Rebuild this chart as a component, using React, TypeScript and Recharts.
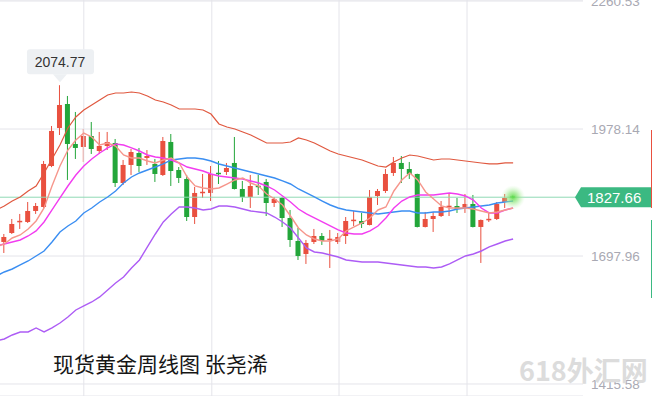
// Weekly gold candlestick chart with Bollinger bands + MA5 / MA10
import {
  ComposedChart,
  Bar,
  Line,
  XAxis,
  YAxis,
  CartesianGrid,
  ReferenceLine,
  ReferenceDot,
} from 'recharts';

// candle OHLC, index 1..65 (weekly bars)
const opens = [
  1728.9, 1748.7, 1774.1, 1773.0, 1797.3, 1806.1, 1896.5, 1980.4, 2033.3, 1945.1,
  1938.5, 1962.7, 1929.6, 1940.7, 1947.3, 1859.0, 1898.8, 1925.2, 1914.2, 1901.0,
  1876.7, 1949.5, 1887.7, 1867.9, 1784.0, 1838.2, 1837.0, 1881.6, 1883.3, 1903.2,
  1845.8, 1828.2, 1853.0, 1861.3, 1814.9, 1826.0, 1781.8, 1731.1, 1702.4, 1728.9,
  1742.1, 1734.8, 1728.9, 1742.1, 1776.6, 1775.2, 1766.4, 1830.4, 1841.4, 1881.1,
  1903.2, 1889.9, 1878.9, 1762.0, 1779.6, 1786.2, 1807.5, 1808.3, 1803.9, 1812.7,
  1762.0, 1778.5, 1779.6, 1817.1, 1829.4,
];
const highs = [
  1746.5, 1779.6, 1790.7, 1817.1, 1814.9, 1907.6, 1984.8, 2074.77, 2051.0, 2015.7,
  1978.2, 1993.6, 1971.6, 1971.6, 1956.1, 1909.8, 1934.0, 1936.3, 1931.8, 1912.0,
  1960.5, 1967.1, 1894.3, 1876.7, 1850.2, 1878.9, 1896.5, 1907.6, 1903.2, 1960.5,
  1863.5, 1876.7, 1876.7, 1867.9, 1828.2, 1828.2, 1799.5, 1759.8, 1733.3, 1757.6,
  1748.7, 1755.4, 1748.7, 1784.0, 1797.3, 1792.9, 1843.6, 1845.8, 1889.9, 1916.4,
  1918.6, 1905.4, 1879.5, 1795.1, 1795.1, 1819.3, 1834.8, 1826.0, 1834.8, 1832.6,
  1778.5, 1792.9, 1817.1, 1834.8, 1831.0,
];
const lows = [
  1704.6, 1746.5, 1757.6, 1770.8, 1790.7, 1804.0, 1894.0, 1964.9, 1865.7, 1912.0,
  1905.4, 1923.0, 1923.0, 1931.8, 1850.2, 1854.6, 1876.7, 1883.3, 1898.8, 1861.3,
  1874.5, 1852.4, 1859.0, 1775.2, 1768.6, 1826.0, 1819.3, 1856.8, 1876.7, 1844.8,
  1817.1, 1803.9, 1832.6, 1786.2, 1806.1, 1762.0, 1717.9, 1689.2, 1680.4, 1724.5,
  1722.3, 1671.5, 1724.5, 1724.5, 1764.2, 1759.8, 1765.5, 1810.5, 1837.0, 1874.5,
  1859.0, 1867.9, 1761.0, 1761.0, 1751.0, 1784.0, 1786.2, 1792.9, 1792.9, 1761.0,
  1682.6, 1773.0, 1777.4, 1803.9, 1825.5,
];
const closes = [
  1739.9, 1768.6, 1775.6, 1797.3, 1808.3, 1901.0, 1973.8, 2031.1, 1945.1, 1936.3,
  1962.7, 1934.0, 1940.7, 1949.5, 1859.0, 1898.8, 1927.4, 1896.5, 1918.6, 1878.9,
  1951.7, 1885.5, 1870.1, 1784.0, 1837.0, 1839.7, 1878.9, 1880.4, 1892.1, 1845.8,
  1828.2, 1852.4, 1851.4, 1814.9, 1823.8, 1781.8, 1733.3, 1698.0, 1726.7, 1742.1,
  1731.1, 1736.2, 1739.9, 1775.2, 1778.1, 1768.6, 1828.2, 1841.4, 1878.9, 1903.2,
  1889.9, 1878.9, 1762.0, 1779.6, 1786.2, 1806.1, 1808.9, 1801.7, 1812.7, 1762.0,
  1777.4, 1780.0, 1812.7, 1826.0, 1827.66,
];

// indicator lines, index 0..65 (index 0 is the week before the first visible candle)
const ma5 = [
  1717.9, 1724.5, 1737.7, 1744.3, 1757.6, 1775.2, 1803.9, 1852.4, 1896.5, 1931.8,
  1953.9, 1969.3, 1960.5, 1942.9, 1947.3, 1940.7, 1920.8, 1914.2, 1914.2, 1907.6,
  1903.2, 1909.8, 1914.2, 1903.2, 1872.3, 1852.4, 1848.0, 1845.8, 1848.0, 1856.8,
  1865.7, 1870.1, 1859.0, 1852.4, 1834.8, 1823.8, 1810.5, 1786.2, 1759.8, 1744.3,
  1735.5, 1731.1, 1731.1, 1735.5, 1753.2, 1762.0, 1770.8, 1781.8, 1799.5, 1806.1,
  1841.4, 1865.7, 1881.1, 1865.7, 1839.2, 1823.8, 1808.3, 1803.9, 1803.9, 1803.9,
  1801.7, 1797.3, 1792.9, 1795.1, 1799.5, 1803.9,
];
const ma10 = [
  1720.1, 1724.5, 1728.9, 1733.3, 1742.1, 1753.2, 1773.0, 1799.5, 1826.0, 1852.4,
  1876.7, 1896.5, 1912.0, 1925.2, 1936.3, 1945.1, 1942.9, 1936.3, 1929.6, 1920.8,
  1916.4, 1914.2, 1909.8, 1903.2, 1894.3, 1889.9, 1885.5, 1878.9, 1874.5, 1872.3,
  1870.1, 1867.9, 1863.5, 1859.0, 1852.4, 1843.6, 1830.4, 1817.1, 1801.7, 1790.7,
  1781.8, 1773.0, 1764.2, 1755.4, 1748.7, 1746.5, 1746.5, 1753.2, 1764.2, 1781.8,
  1803.9, 1819.3, 1828.2, 1832.6, 1832.6, 1832.6, 1834.8, 1837.0, 1834.8, 1830.4,
  1821.5, 1803.9, 1792.9, 1792.9, 1799.5, 1803.9,
];
const bollMid = [
  1653.9, 1662.7, 1669.3, 1678.2, 1687.0, 1698.0, 1709.0, 1728.9, 1751.0, 1764.2,
  1775.2, 1792.9, 1803.9, 1817.1, 1828.2, 1841.4, 1859.0, 1872.3, 1881.1, 1887.7,
  1894.3, 1901.0, 1909.8, 1912.0, 1914.2, 1914.2, 1912.0, 1907.6, 1901.0, 1896.5,
  1892.1, 1887.7, 1883.3, 1878.9, 1874.5, 1870.1, 1863.5, 1856.8, 1845.8, 1837.0,
  1828.2, 1819.3, 1810.5, 1803.9, 1799.5, 1797.3, 1795.1, 1792.9, 1790.7, 1792.9,
  1795.1, 1797.3, 1797.3, 1792.9, 1792.9, 1795.1, 1795.1, 1797.3, 1801.7, 1803.9,
  1806.1, 1808.3, 1810.5, 1814.9, 1817.1, 1819.3,
];
const bollUpper = [
  1799.5, 1808.3, 1819.3, 1828.2, 1841.4, 1852.4, 1881.1, 1912.0, 1942.9, 1980.4,
  2004.6, 2020.1, 2031.1, 2042.1, 2053.2, 2057.6, 2057.6, 2059.8, 2057.6, 2051.0,
  2042.1, 2037.7, 2031.1, 2022.3, 2022.3, 2022.3, 2020.1, 2011.2, 1989.2, 1982.6,
  1978.2, 1971.6, 1964.9, 1956.1, 1947.3, 1947.3, 1947.3, 1949.5, 1958.3, 1953.9,
  1947.3, 1938.5, 1929.6, 1923.0, 1918.6, 1914.2, 1909.8, 1903.2, 1896.5, 1894.3,
  1905.4, 1914.2, 1920.8, 1918.6, 1914.2, 1909.8, 1912.0, 1912.0, 1909.8, 1907.6,
  1905.4, 1903.2, 1901.0, 1901.0, 1903.2, 1903.2,
];
const bollLower = [
  1510.5, 1514.9, 1523.7, 1530.3, 1530.3, 1539.2, 1530.3, 1539.2, 1550.2, 1563.4,
  1578.9, 1587.7, 1596.5, 1607.6, 1623.0, 1638.4, 1651.7, 1671.5, 1689.2, 1717.9,
  1746.5, 1773.0, 1790.7, 1806.1, 1806.1, 1803.9, 1799.5, 1801.7, 1808.3, 1808.3,
  1806.1, 1801.7, 1797.3, 1795.1, 1792.9, 1784.0, 1773.0, 1759.8, 1737.7, 1715.7,
  1706.8, 1704.6, 1700.2, 1695.8, 1689.2, 1687.0, 1684.8, 1684.8, 1684.8, 1682.6,
  1680.4, 1678.2, 1675.9, 1673.7, 1673.7, 1671.5, 1673.7, 1680.4, 1689.2, 1698.0,
  1702.4, 1709.0, 1717.9, 1724.5, 1731.1, 1735.5,
];

const priceTicks = [1415.58, 1697.96, 1978.14, 2260.53];
const dateGridX = [11, 27.1, 43.1, 59.2];
const lastPrice = 1827.66;
const peakIndex = 8;
const peakPrice = 2074.77;

const RED = '#e9503f';
const GREEN = '#23a63a';

const rows = bollMid.map((_, i) => ({
  i,
  o: i > 0 ? opens[i - 1] : null,
  h: i > 0 ? highs[i - 1] : null,
  l: i > 0 ? lows[i - 1] : null,
  c: i > 0 ? closes[i - 1] : null,
  ma5: ma5[i],
  ma10: ma10[i],
  mid: bollMid[i],
  up: bollUpper[i],
  dn: bollLower[i],
}));

function Candle(props: any) {
  const { x, y, width, height, payload } = props;
  if (!payload || payload.o == null) return null;
  const { o, h, l, c } = payload;
  const top = Math.min(y, y + height);
  const span = Math.abs(height);
  const ppu = h - l > 0 ? span / (h - l) : 0;
  const cx = x + width / 2;
  const bodyTop = top + (h - Math.max(o, c)) * ppu;
  const bodyH = Math.max(1.5, Math.abs(o - c) * ppu);
  const color = c >= o ? RED : GREEN;
  return (
    <g>
      <line x1={cx} x2={cx} y1={top} y2={top + span} stroke={color} strokeWidth={1} />
      <rect x={x} y={bodyTop} width={width} height={bodyH} fill={color} />
    </g>
  );
}

function PeakLabel(props: any) {
  const { cx, cy } = props;
  const bx = cx - 33;
  const by = cy - 36;
  return (
    <g>
      <rect x={bx} y={by} width={67} height={25} rx={3} fill="#edf0f3" />
      <path d={`M${cx - 7},${by + 25} L${cx},${cy - 3} L${cx + 7},${by + 25} Z`} fill="#edf0f3" />
      <text x={cx} y={by + 17.5} textAnchor="middle" fontSize={14} fill="#333"
        fontFamily="'Liberation Sans', Arial, sans-serif">
        {peakPrice.toFixed(2)}
      </text>
    </g>
  );
}

function PriceTag(props: any) {
  const { viewBox } = props;
  const right = viewBox.x + viewBox.width;
  const cy = viewBox.y;
  const px = right - 8;
  return (
    <g>
      <path d={`M${px},${cy} L${px + 6},${cy - 10} L652,${cy - 10} L652,${cy + 10} L${px + 6},${cy + 10} Z`}
        fill="#3bb982" />
      <text x={px + 12} y={cy + 5.5} fontSize={15} fill="#fff"
        fontFamily="'Liberation Sans', Arial, sans-serif">
        {lastPrice.toFixed(2)}
      </text>
    </g>
  );
}

export default function App() {
  return (
    <div style={{ position: 'absolute', left: 0, top: 0, width: 652, height: 396, background: '#fff', overflow: 'hidden' }}>
      <ComposedChart width={652} height={396} data={rows} margin={{ top: 0, right: 0, left: 0, bottom: 0 }}>
        <defs>
          <radialGradient id="glow">
            <stop offset="0%" stopColor="#5fdc4a" stopOpacity={0.95} />
            <stop offset="45%" stopColor="#8fe67c" stopOpacity={0.6} />
            <stop offset="100%" stopColor="#c8f3bd" stopOpacity={0} />
          </radialGradient>
        </defs>
        <CartesianGrid vertical={false} stroke="#e4e4ea" />
        <XAxis dataKey="i" type="number" domain={[0.459, 73.79]} allowDataOverflow hide />
        <YAxis
          orientation="right"
          width={69}
          domain={[1389.1, 2262.74]}
          allowDataOverflow
          ticks={priceTicks}
          interval={0}
          tickFormatter={(v: number) => v.toFixed(2)}
          tick={{ fontSize: 13.5, fill: '#a9a9b3', fontFamily: "'Liberation Sans', Arial, sans-serif" }}
          tickLine={false}
          axisLine={false}
        />
        {dateGridX.map((v) => (
          <ReferenceLine key={v} x={v} stroke="#e4e4ea" />
        ))}
        <ReferenceLine y={lastPrice} stroke="#8fd9b4" label={<PriceTag />} />
        <Line dataKey="up" stroke="#e0583f" strokeWidth={1.2} dot={false} isAnimationActive={false} />
        <Line dataKey="dn" stroke="#ad5cf5" strokeWidth={1.4} dot={false} isAnimationActive={false} />
        <Line dataKey="mid" stroke="#3a8ef2" strokeWidth={1.4} dot={false} isAnimationActive={false} />
        <Line dataKey="ma10" stroke="#f23cf0" strokeWidth={1.4} dot={false} isAnimationActive={false} />
        <Line dataKey="ma5" stroke="#f6968c" strokeWidth={1.4} dot={false} isAnimationActive={false} />
        <Bar
          dataKey={(d: any) => (d.o == null ? null : [d.l, d.h])}
          barSize={5}
          shape={<Candle />}
          isAnimationActive={false}
        />
        <ReferenceDot x={65} y={lastPrice} r={12} fill="url(#glow)" stroke="none" />
        <ReferenceDot x={peakIndex} y={peakPrice} r={0} shape={<PeakLabel />} />
      </ComposedChart>
      <div style={{ position: 'absolute', left: 651, top: 130, width: 1, height: 78, background: '#e9503f' }} />
      <div style={{ position: 'absolute', left: 651, top: 220, width: 1, height: 78, background: '#3bb982' }} />
      <div style={{
        position: 'absolute', left: 53, top: 352, fontSize: 21, lineHeight: '23px', color: '#161616',
        fontFamily: "'Noto Sans CJK SC', sans-serif", whiteSpace: 'nowrap',
      }}>
        现货黄金周线图 张尧浠
      </div>
      <div style={{
        position: 'absolute', left: 519, top: 355, fontSize: 27, lineHeight: '30px', color: '#dcdcdc',
        fontWeight: 700, fontFamily: "'Noto Sans CJK SC', sans-serif", whiteSpace: 'nowrap',
      }}>
        618外汇网
      </div>
    </div>
  );
}
